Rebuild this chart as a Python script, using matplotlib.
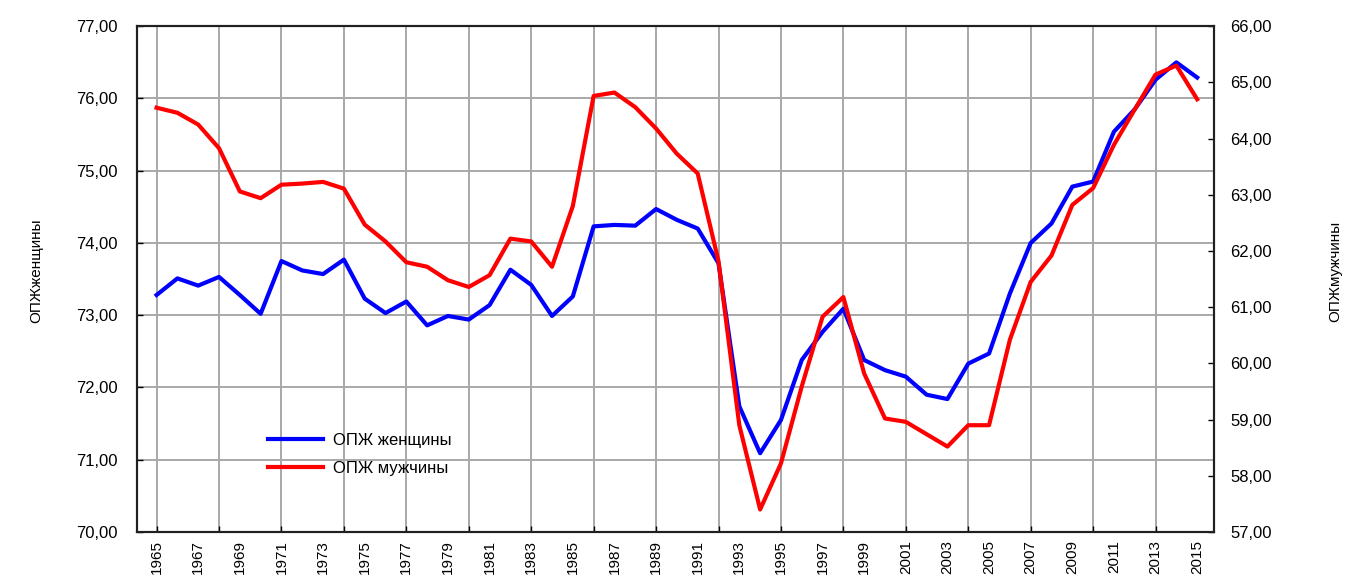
import matplotlib
matplotlib.use("Agg")
import matplotlib.pyplot as plt
from matplotlib.ticker import FixedLocator, FuncFormatter, NullFormatter

plt.rcParams['font.family'] = ['Liberation Sans', 'DejaVu Sans']

years = list(range(1965, 2016))
women = [73.28, 73.51, 73.41, 73.53, 73.28, 73.02, 73.75, 73.62, 73.57, 73.77,
         73.23, 73.03, 73.19, 72.86, 72.99, 72.94, 73.14, 73.63, 73.42, 72.99,
         73.26, 74.23, 74.25, 74.24, 74.47, 74.32, 74.20, 73.72, 71.74, 71.09,
         71.55, 72.38, 72.77, 73.09, 72.38, 72.24, 72.15, 71.90, 71.84, 72.33,
         72.47, 73.30, 74.00, 74.27, 74.78, 74.85, 75.54, 75.85, 76.26, 76.50,
         76.29]
men = [64.55, 64.46, 64.25, 63.83, 63.06, 62.94, 63.18, 63.20, 63.23, 63.11,
       62.47, 62.17, 61.80, 61.72, 61.48, 61.36, 61.57, 62.22, 62.17, 61.72,
       62.80, 64.76, 64.82, 64.56, 64.18, 63.73, 63.38, 61.82, 58.90, 57.40,
       58.22, 59.59, 60.83, 61.18, 59.82, 59.02, 58.96, 58.74, 58.52, 58.90,
       58.90, 60.42, 61.45, 61.92, 62.82, 63.12, 63.89, 64.52, 65.14, 65.30,
       64.70]
label_years = list(range(1965, 2016, 2))
grid_years = list(range(1965, 2016, 3))
left_ticks = [70, 71, 72, 73, 74, 75, 76, 77]
right_ticks = [57, 58, 59, 60, 61, 62, 63, 64, 65, 66]

fig = plt.figure(figsize=(13.46, 5.83), dpi=100)
ax = fig.add_axes([0.1018, 0.0875, 0.8, 0.8675])
ax2 = ax.twinx()

l1, = ax.plot(years, women, color='#0000ff', lw=3.0, label='ОПЖ женщины')
l2, = ax2.plot(years, men, color='#ff0000', lw=3.0, label='ОПЖ мужчины')

ax.set_xlim(1964.06, 2015.8)
ax.set_ylim(70, 77)
ax2.set_ylim(57, 66)

fmt = FuncFormatter(lambda v, p: f"{v:.2f}".replace('.', ','))
ax.yaxis.set_major_locator(FixedLocator(left_ticks))
ax.yaxis.set_major_formatter(fmt)
ax2.yaxis.set_major_locator(FixedLocator(right_ticks))
ax2.yaxis.set_major_formatter(fmt)

ax.xaxis.remove_overlapping_locs = False
ax.xaxis.set_major_locator(FixedLocator(label_years))
ax.xaxis.set_major_formatter(FuncFormatter(lambda v, p: str(int(round(v)))))
ax.xaxis.set_minor_locator(FixedLocator(grid_years))
ax.xaxis.set_minor_formatter(NullFormatter())
ax.tick_params(axis='x', which='major', length=0, labelrotation=90, labelsize=11, pad=6)
ax.tick_params(axis='x', which='minor', direction='in', length=4, width=1)
ax.tick_params(axis='y', direction='in', length=4, width=1, labelsize=12, pad=14)
ax2.tick_params(axis='y', direction='in', length=4, width=1, labelsize=12, pad=12)

ax.grid(False, axis='x', which='major')
ax.grid(True, axis='x', which='minor', color='#a8a8a8', lw=1.4)
ax.grid(True, axis='y', which='major', color='#a8a8a8', lw=1.4)
ax.set_axisbelow(True)
for a in (ax, ax2):
    for s in a.spines.values():
        s.set_linewidth(1.5)
        s.set_color('#202020')

fig.text(0.027, 0.535, 'ОПЖженщины', rotation=90, ha='center', va='center', fontsize=11)
fig.text(0.992, 0.535, 'ОПЖмужчины', rotation=90, ha='center', va='center', fontsize=11)

ax2.legend(handles=[l1, l2], loc='upper left', bbox_to_anchor=(0.108, 0.225),
           frameon=False, fontsize=12, handlelength=3.3, handletextpad=0.6,
           labelspacing=0.75)

fig.savefig('out.png', dpi=100)
